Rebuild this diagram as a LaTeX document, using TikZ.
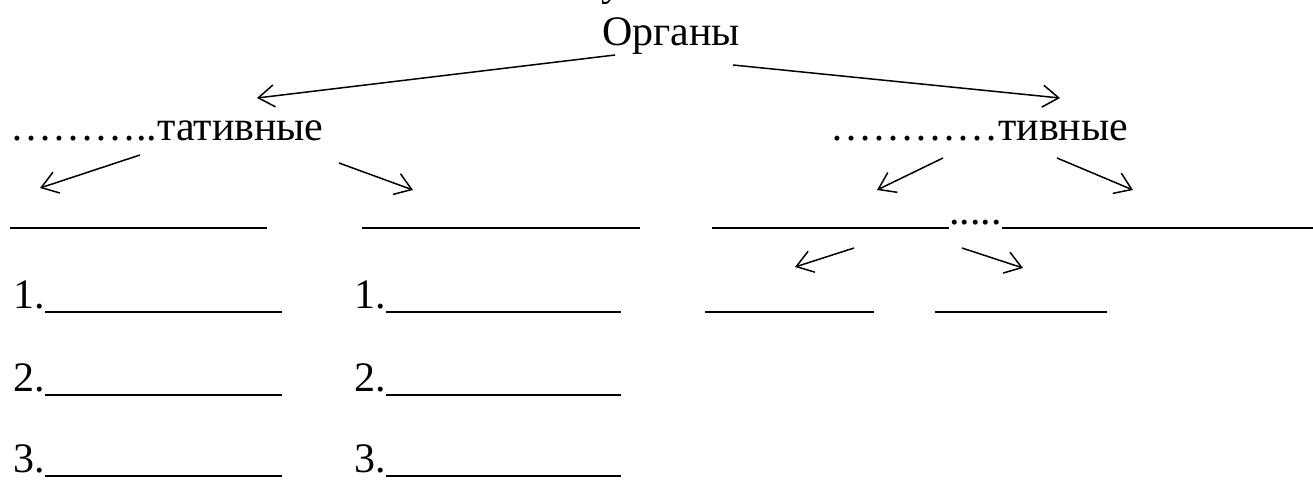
\documentclass[tikz,border=0pt]{standalone}
\usepackage{fontspec}
\setmainfont{Liberation Serif}
\usetikzlibrary{arrows.meta}
\tikzset{
  lbl/.style={anchor=base west, inner sep=0pt, font=\fontsize{42}{50}\selectfont},
  arr/.style={line width=1.5pt, -{Straight Barb[length=16pt,width=22pt,line width=1.5pt]}},
  blank/.style={line width=2pt}
}
\begin{document}
\begin{tikzpicture}[x=1pt,y=-1pt]
\useasboundingbox (0,0) rectangle (1313,479);

% headings
\node[lbl] (top) at (601,-5) {у};
\node[lbl] (org) at (602,45) {Органы};
\node[lbl] (left) at (10,140) {………..тативные};
\node[lbl] (right) at (830,140) {…………тивные};
\node[lbl] (mid) at (949,224) {.....};

% numbered rows
\foreach \n/\y in {1/308,2/391,3/472}{
  \node[lbl] (l\n) at (13,\y) {\n.};
  \node[lbl] (r\n) at (354,\y) {\n.};
  \draw[blank] (l\n.base east) ++(0,4) -- ++(237,0);
  \draw[blank] (r\n.base east) ++(0,4) -- ++(235,0);
}

% blanks of the second row
\draw[blank] (10,228) -- (267,228);
\draw[blank] (362,228) -- (640,228);
\draw[blank] (712,228) -- (mid.base west |- 0,228);
\draw[blank] (mid.base east |- 0,228) -- (1313,228);
% blanks of the third row
\draw[blank] (705,312) -- (874,312);
\draw[blank] (935,312) -- (1107,312);

% arrow end points
\coordinate (a1s) at (615,55);  \coordinate (a1e) at (257,98);
\coordinate (a2s) at (733,65);  \coordinate (a2e) at (1060,98);
\coordinate (b1s) at (140,155); \coordinate (b1e) at (40,188);
\coordinate (b2s) at (339,163); \coordinate (b2e) at (413,190);
\coordinate (c1s) at (943,158); \coordinate (c1e) at (877,190);
\coordinate (c2s) at (1057,158);\coordinate (c2e) at (1133,190);
\coordinate (d1s) at (854,248); \coordinate (d1e) at (795,267);
\coordinate (d2s) at (962,248); \coordinate (d2e) at (1023,268);

\foreach \p in {a1,a2,b1,b2,c1,c2,d1,d2}{
  \draw[arr] (\p s) -- (\p e);
}
\end{tikzpicture}
\end{document}
